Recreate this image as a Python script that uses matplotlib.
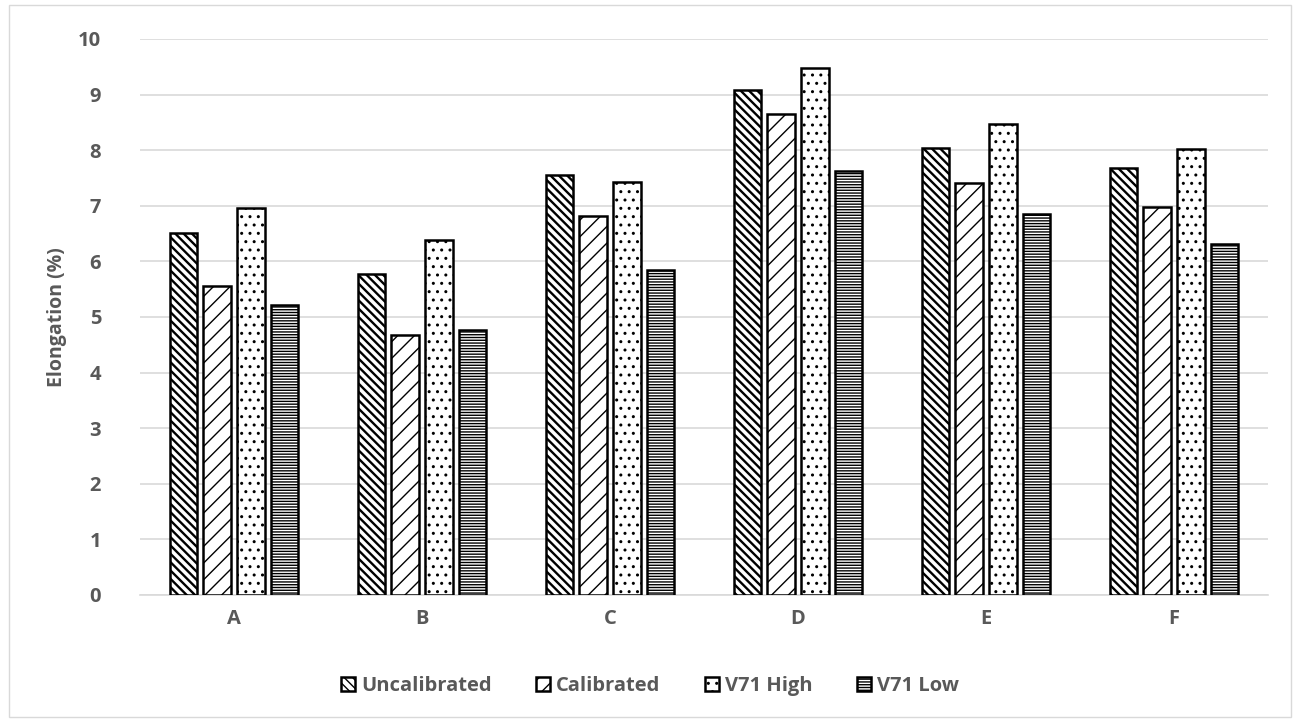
import numpy as np
import matplotlib.pyplot as plt
from matplotlib.patches import Rectangle

categories = ['A', 'B', 'C', 'D', 'E', 'F']
series_names = ['Uncalibrated', 'Calibrated', 'V71 High', 'V71 Low']
uncalibrated = [6.51, 5.77, 7.55, 9.08, 8.04, 7.68]
calibrated = [5.56, 4.68, 6.81, 8.66, 7.41, 6.98]
v71_high = [6.96, 6.39, 7.42, 9.47, 8.48, 8.03]
v71_low = [5.22, 4.76, 5.85, 7.62, 6.86, 6.32]

plt.rcParams['font.family'] = ['Open Sans', 'DejaVu Sans']
grey = '#595959'

fig = plt.figure(figsize=(13, 7.22), dpi=100)
ax = fig.add_axes([140/1300, 1 - 595/722, (1268-140)/1300, (595-39)/722])

# outer frame around the whole chart
fig.patches.append(Rectangle((0.007, 0.007), 0.986, 0.986, transform=fig.transFigure,
                             fill=False, edgecolor='#d9d9d9', linewidth=1))

x = np.arange(len(categories))
w = 0.145
step = 0.18
hatches = ['\\\\\\\\', '//', '..', '------']
hatch_cols = ['black', '#333333', 'black', '#666666']
hatch_lws = [1.7, 1.0, 1.0, 1.0]
data = [uncalibrated, calibrated, v71_high, v71_low]
for i, (vals, name) in enumerate(zip(data, series_names)):
    off = (i - 1.5) * step
    plt.rcParams['hatch.color'] = hatch_cols[i]
    plt.rcParams['hatch.linewidth'] = hatch_lws[i]
    ax.bar(x + off, vals, width=w, color='white', edgecolor='black', linewidth=1.8,
           hatch=hatches[i], label=name, zorder=3)

ax.set_xlim(-0.5, len(categories) - 0.5)
ax.set_ylim(0, 10)
ax.set_yticks(range(0, 11))
ax.set_xticks(x)
ax.set_xticklabels(categories)
ax.grid(axis='y', color='#d9d9d9', linewidth=1.2, zorder=0)
for s in ['top', 'right', 'left']:
    ax.spines[s].set_visible(False)
ax.spines['bottom'].set_color('#d9d9d9')
ax.spines['bottom'].set_linewidth(1.2)
ax.tick_params(length=0, labelsize=14.5, labelcolor=grey, pad=10)
for lab in ax.get_xticklabels() + ax.get_yticklabels():
    lab.set_fontweight('bold')
ax.tick_params(axis='y', pad=28)
ax.set_ylabel('Elongation (%)', fontsize=14, fontweight='bold', color=grey, labelpad=8)

leg = fig.legend(loc='center', bbox_to_anchor=(0.5, 1 - 686/722), ncol=4, frameon=False,
                 fontsize=14.5, handlelength=0.7, handleheight=0.7, handletextpad=0.3,
                 columnspacing=2.2)
for t in leg.get_texts():
    t.set_fontweight('bold')
    t.set_color(grey)

fig.savefig('out.png', dpi=100)
